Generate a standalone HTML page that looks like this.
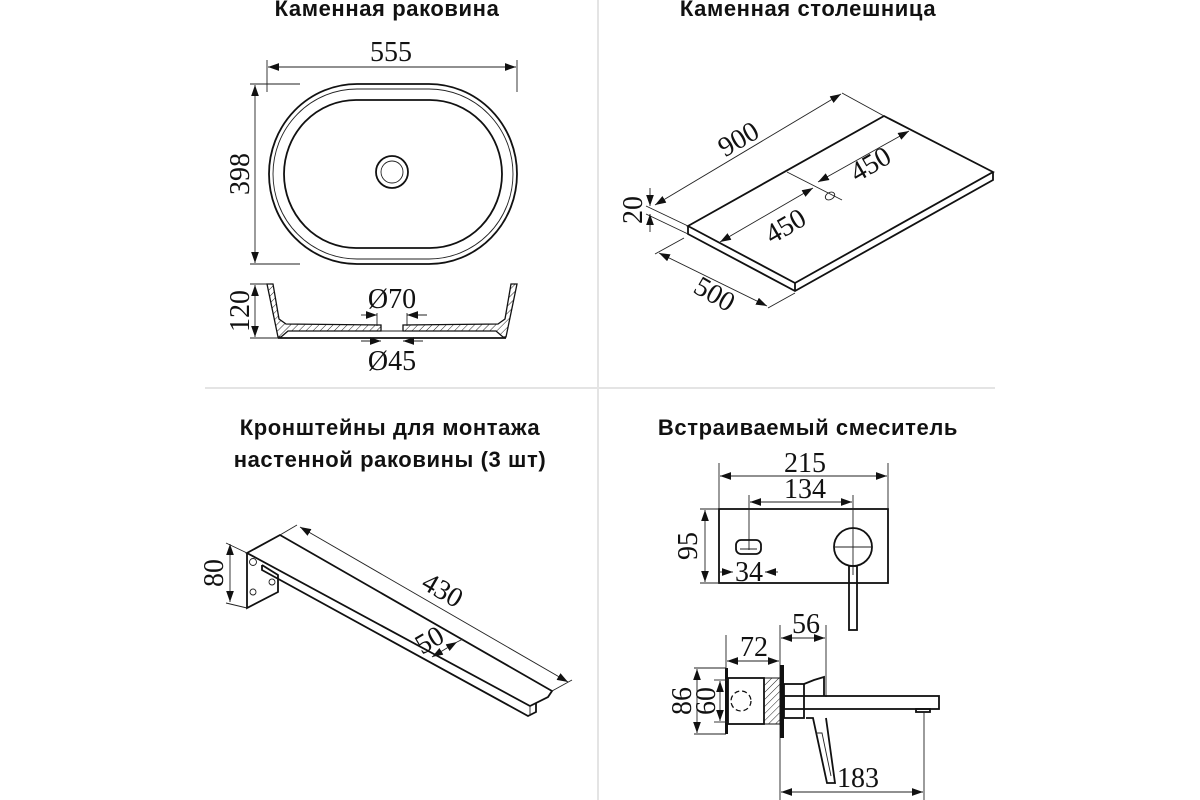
<!DOCTYPE html>
<html><head><meta charset="utf-8"><style>
html,body{margin:0;padding:0;background:#fff;}
svg{display:block;}
.t{font-family:"Liberation Sans","Noto Sans CJK SC",sans-serif;font-weight:bold;font-size:22px;letter-spacing:0.6px;fill:#111;}
.n{font-family:"Liberation Serif",serif;font-size:28px;fill:#111;}
.l{stroke:#111;fill:none;stroke-width:1.8;}
.d{stroke:#222;fill:none;stroke-width:0.9;}
</style></head><body>
<svg width="1200" height="800" viewBox="0 0 1200 800" xmlns="http://www.w3.org/2000/svg">
<defs>
<marker id="a" viewBox="0 0 10 10" refX="10" refY="5" markerWidth="11" markerHeight="11" orient="auto-start-reverse" markerUnits="userSpaceOnUse"><path d="M0,1.5 L10,5 L0,8.5 z" fill="#111"/></marker>
<pattern id="h" width="5" height="5" patternUnits="userSpaceOnUse" patternTransform="rotate(45)"><line x1="0" y1="0" x2="0" y2="5" stroke="#222" stroke-width="1"/></pattern>
</defs>
<rect width="1200" height="800" fill="#fff"/>
<line x1="598" y1="0" x2="598" y2="800" stroke="#e4e4e4" stroke-width="2"/>
<line x1="205" y1="388" x2="995" y2="388" stroke="#e4e4e4" stroke-width="2"/>

<text class="t" x="387" y="16" text-anchor="middle">Каменная раковина</text>
<text class="t" x="808" y="16" text-anchor="middle">Каменная столешница</text>
<text class="t" x="390" y="435" text-anchor="middle">Кронштейны для монтажа</text>
<text class="t" x="390" y="467" text-anchor="middle">настенной раковины (3 шт)</text>
<text class="t" x="808" y="435" text-anchor="middle">Встраиваемый смеситель</text>

<!-- sink top -->
<line class="d" x1="267" y1="60" x2="267" y2="92"/><line class="d" x1="517" y1="60" x2="517" y2="92"/>
<line class="d" x1="268" y1="67" x2="516" y2="67" marker-start="url(#a)" marker-end="url(#a)"/>
<text class="n" x="391" y="61" text-anchor="middle">555</text>
<line class="d" x1="250" y1="84" x2="300" y2="84"/><line class="d" x1="250" y1="264" x2="300" y2="264"/>
<line class="d" x1="255" y1="85" x2="255" y2="263" marker-start="url(#a)" marker-end="url(#a)"/>
<text class="n" transform="translate(249,174) rotate(-90)" text-anchor="middle">398</text>
<rect class="l" x="269" y="84" width="248" height="180" rx="88" ry="90"/>
<rect class="d" x="273" y="89" width="240" height="170" rx="84" ry="85"/>
<rect class="l" x="284" y="100" width="218" height="148" rx="72" ry="74"/>
<circle class="l" cx="392" cy="172" r="16"/><circle class="d" cx="392" cy="172" r="11"/>

<!-- sink section -->
<path d="M267,284 L273,284 L279,319 L286,324 L381,325 L381,331 L288,331 L281,337 L278,337 Z" fill="url(#h)" stroke="#111" stroke-width="1.3"/>
<path d="M517,284 L511,284 L505,319 L498,324 L403,325 L403,331 L496,331 L503,337 L506,337 Z" fill="url(#h)" stroke="#111" stroke-width="1.3"/>
<line class="l" x1="278" y1="338" x2="506" y2="338" stroke-width="1.2"/>
<line class="d" x1="381" y1="331" x2="403" y2="331"/>
<line class="d" x1="250" y1="284" x2="270" y2="284"/><line class="d" x1="250" y1="338" x2="280" y2="338"/>
<line class="d" x1="255" y1="285" x2="255" y2="337" marker-start="url(#a)" marker-end="url(#a)"/>
<text class="n" transform="translate(249,311) rotate(-90)" text-anchor="middle">120</text>
<text class="n" x="392" y="308" text-anchor="middle" font-size="22">Ø70</text>
<line class="d" x1="361" y1="315" x2="377" y2="315" marker-end="url(#a)"/><line class="d" x1="427" y1="315" x2="407" y2="315" marker-end="url(#a)"/>
<line class="d" x1="377" y1="313" x2="377" y2="326"/><line class="d" x1="407" y1="313" x2="407" y2="326"/>
<text class="n" x="392" y="370" text-anchor="middle" font-size="22">Ø45</text>
<line class="d" x1="361" y1="341" x2="381" y2="341" marker-end="url(#a)"/><line class="d" x1="423" y1="341" x2="403" y2="341" marker-end="url(#a)"/>

<!-- countertop -->
<path class="l" d="M688,226 L884,116 L993,172 L795,283 Z" stroke-width="1.5"/>
<path class="l" d="M688,226 L688,234 L795,291 L993,180 L993,172 M795,283 L795,291" stroke-width="1.5"/>
<line class="d" x1="787" y1="172" x2="842" y2="200"/>
<ellipse class="d" cx="830" cy="196" rx="5" ry="3.5" transform="rotate(-30 830 196)"/>
<line class="d" x1="842" y1="93" x2="884" y2="116"/>
<line class="d" x1="655" y1="205" x2="841" y2="94" marker-start="url(#a)" marker-end="url(#a)"/>
<text class="n" transform="translate(743,147) rotate(-30)" text-anchor="middle">900</text>
<line class="d" x1="720" y1="242" x2="813" y2="188" marker-start="url(#a)" marker-end="url(#a)"/>
<text class="n" transform="translate(790,234) rotate(-30)" text-anchor="middle">450</text>
<line class="d" x1="818" y1="182" x2="909" y2="131" marker-start="url(#a)" marker-end="url(#a)"/>
<text class="n" transform="translate(875,172) rotate(-30)" text-anchor="middle">450</text>
<line class="d" x1="646" y1="206" x2="688" y2="226"/><line class="d" x1="646" y1="214" x2="688" y2="234"/>
<line class="d" x1="650" y1="188" x2="650" y2="206" marker-end="url(#a)"/><line class="d" x1="650" y1="232" x2="650" y2="214" marker-end="url(#a)"/>
<text class="n" transform="translate(642,210) rotate(-90)" text-anchor="middle">20</text>
<line class="d" x1="655" y1="254" x2="684" y2="238"/><line class="d" x1="768" y1="308" x2="795" y2="293"/>
<line class="d" x1="659" y1="253" x2="767" y2="306" marker-start="url(#a)" marker-end="url(#a)"/>
<text class="n" transform="translate(710,302) rotate(30)" text-anchor="middle">500</text>

<!-- bracket -->
<path class="l" d="M247,553 L280,535 L552,691 L548,697 L530,706 Z" stroke-width="1.4"/>
<path class="l" d="M247,553 L247,608 L278,592 L278,575 L262,565" stroke-width="1.4"/>
<path class="l" d="M262,565 L262,570 L528,716 L536,712 L536,703" stroke-width="1.3"/>
<path class="d" d="M530,706 L530,716"/>
<circle class="d" cx="253" cy="562" r="3.5"/><circle class="d" cx="272" cy="582" r="3"/><circle class="d" cx="253" cy="592" r="3"/>
<line class="d" x1="280" y1="535" x2="297" y2="525"/><line class="d" x1="552" y1="691" x2="572" y2="680"/>
<line class="d" x1="300" y1="527" x2="568" y2="682" marker-start="url(#a)" marker-end="url(#a)"/>
<text class="n" transform="translate(438,598) rotate(30)" text-anchor="middle">430</text>
<line class="d" x1="432" y1="657" x2="457" y2="642" marker-start="url(#a)" marker-end="url(#a)"/>
<line class="d" x1="457" y1="642" x2="463" y2="639"/>
<text class="n" transform="translate(434,648) rotate(-30)" text-anchor="middle">50</text>
<line class="d" x1="226" y1="543" x2="247" y2="553"/><line class="d" x1="226" y1="603" x2="247" y2="608"/>
<line class="d" x1="230" y1="544" x2="230" y2="602" marker-start="url(#a)" marker-end="url(#a)"/>
<text class="n" transform="translate(223,573) rotate(-90)" text-anchor="middle">80</text>

<!-- faucet front -->
<rect class="l" x="719" y="509" width="169" height="74" stroke-width="1.4"/>
<line class="d" x1="719" y1="463" x2="719" y2="509"/><line class="d" x1="888" y1="463" x2="888" y2="509"/>
<line class="d" x1="720" y1="476" x2="887" y2="476" marker-start="url(#a)" marker-end="url(#a)"/>
<text class="n" x="805" y="472" text-anchor="middle">215</text>
<line class="d" x1="749" y1="495" x2="749" y2="550"/><line class="d" x1="853" y1="495" x2="853" y2="575"/>
<line class="d" x1="750" y1="502" x2="852" y2="502" marker-start="url(#a)" marker-end="url(#a)"/>
<text class="n" x="805" y="498" text-anchor="middle">134</text>
<rect class="l" x="736" y="540" width="25" height="14" rx="5"/>
<line class="d" x1="740" y1="549" x2="757" y2="549"/>
<circle class="l" cx="853" cy="547" r="19"/>
<line class="d" x1="834" y1="547" x2="872" y2="547"/>
<rect class="l" x="849" y="566" width="8" height="64" fill="#fff"/>
<text class="n" x="749" y="581" text-anchor="middle">34</text>
<line class="d" x1="720" y1="572" x2="733" y2="572" marker-end="url(#a)"/><line class="d" x1="778" y1="572" x2="765" y2="572" marker-end="url(#a)"/>
<line class="d" x1="700" y1="509" x2="719" y2="509"/><line class="d" x1="700" y1="583" x2="719" y2="583"/>
<line class="d" x1="705" y1="510" x2="705" y2="582" marker-start="url(#a)" marker-end="url(#a)"/>
<text class="n" transform="translate(697,546) rotate(-90)" text-anchor="middle">95</text>

<!-- faucet side -->
<line class="d" x1="726" y1="635" x2="726" y2="668"/><line class="d" x1="780" y1="625" x2="780" y2="800"/><line class="d" x1="826" y1="625" x2="826" y2="697"/>
<line class="d" x1="727" y1="661" x2="779" y2="661" marker-start="url(#a)" marker-end="url(#a)"/>
<text class="n" x="754" y="656" text-anchor="middle">72</text>
<line class="d" x1="781" y1="638" x2="825" y2="638" marker-start="url(#a)" marker-end="url(#a)"/>
<text class="n" x="806" y="633" text-anchor="middle">56</text>
<rect x="725" y="668" width="3" height="66" fill="#111"/>
<rect class="l" x="728" y="678" width="36" height="46" stroke-width="1.3"/>
<rect x="764" y="678" width="16" height="46" fill="url(#h)" stroke="#111"/>
<rect x="780" y="665" width="4" height="73" fill="#111"/>
<circle cx="741" cy="701" r="10" fill="none" stroke="#111" stroke-width="1.3" stroke-dasharray="5 3"/>
<rect class="l" x="784" y="684" width="20" height="34" stroke-width="1.3"/>
<path class="l" d="M804,684 L814,680 L824,677 L824,696" stroke-width="1.3"/>
<rect class="l" x="784" y="696" width="155" height="13" fill="#fff" stroke-width="1.4"/>
<rect class="l" x="916" y="709" width="14" height="3" stroke-width="1"/>
<path class="l" d="M806,718 L813,718 L827,783 L835,783 L826,718" stroke-width="1.3"/>
<path class="d" d="M816,733 L822,733 L831,776"/>
<line class="d" x1="924" y1="712" x2="924" y2="800"/>
<line class="d" x1="781" y1="792" x2="923" y2="792" marker-start="url(#a)" marker-end="url(#a)"/>
<text class="n" x="858" y="787" text-anchor="middle">183</text>
<line class="d" x1="694" y1="668" x2="726" y2="668"/><line class="d" x1="694" y1="734" x2="726" y2="734"/>
<line class="d" x1="714" y1="680" x2="728" y2="680"/><line class="d" x1="714" y1="722" x2="728" y2="722"/>
<line class="d" x1="697" y1="669" x2="697" y2="733" marker-start="url(#a)" marker-end="url(#a)"/>
<line class="d" x1="720" y1="681" x2="720" y2="721" marker-start="url(#a)" marker-end="url(#a)"/>
<text class="n" transform="translate(691,701) rotate(-90)" text-anchor="middle">86</text>
<text class="n" transform="translate(715,701) rotate(-90)" text-anchor="middle">60</text>
</svg>
</body></html>
